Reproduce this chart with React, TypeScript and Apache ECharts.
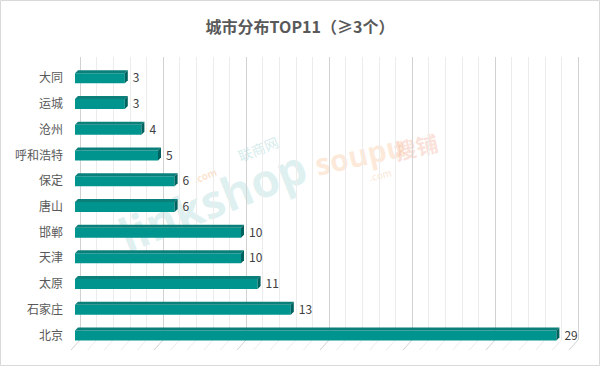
import React, { useEffect, useRef } from "react";
import * as echarts from "echarts";

const categories = ["大同", "运城", "沧州", "呼和浩特", "保定", "唐山", "邯郸", "天津", "太原", "石家庄", "北京"];
const values = [3, 3, 4, 5, 6, 6, 10, 10, 11, 13, 29];
const titleText = "城市分布TOP11（≥3个）";
const axisMax = 30;
const FONT = "'Noto Sans CJK SC', 'Noto Sans', sans-serif";

export default function App() {
  const ref = useRef<HTMLDivElement>(null);
  useEffect(() => {
    document.body.style.margin = "0";
    const chart = echarts.init(ref.current!, null, { renderer: "svg" });
    const ticks = Array.from({ length: axisMax + 1 }, (_, i) => [i, 0]);
    const option: any = {
      animation: false,
      backgroundColor: "#ffffff",
      title: {
        text: titleText,
        left: "center",
        top: 13,
        textStyle: { fontSize: 16, fontWeight: "bold", color: "#595959", fontFamily: FONT },
      },
      grid: [
        { left: 80, right: 22, top: 57, bottom: 26 },
        { left: 75, right: 27, top: 64, bottom: 19 },
      ],
      xAxis: [
        {
          gridIndex: 0, type: "value", min: 0, max: axisMax, interval: 1,
          axisLabel: { show: false }, axisLine: { show: false }, axisTick: { show: false },
          splitLine: { show: true, lineStyle: { width: 1, color: ["#d2d2d2", "#ececec", "#ececec", "#ececec", "#ececec"] } },
        },
        { gridIndex: 1, type: "value", min: 0, max: axisMax, show: false, splitLine: { show: false } },
      ],
      yAxis: [
        { gridIndex: 0, type: "category", data: categories, inverse: true, show: false },
        {
          gridIndex: 1, type: "category", data: categories, inverse: true,
          axisLine: { show: false }, axisTick: { show: false }, splitLine: { show: false },
          axisLabel: { color: "#595959", fontSize: 12, margin: 12, fontFamily: FONT },
        },
      ],
      graphic: [
        { type: "rect", shape: { x: 0.5, y: 0.5, width: 599, height: 365 }, style: { fill: "none", stroke: "#d9d9d9", lineWidth: 1 }, z: 100 },
        { type: "text", x: 112, y: 215, rotation: 0.38, z: -1, style: { text: "linkshop", fontSize: 46, fontWeight: "bold", fontFamily: "'Open Sans', sans-serif", fill: "rgba(110,190,190,0.22)" } },
        { type: "text", x: 236, y: 150, rotation: 0.38, z: -1, style: { text: "联商网", fontSize: 14, fontFamily: FONT, fill: "rgba(110,190,190,0.3)" } },
        { type: "text", x: 192, y: 175, rotation: 0.38, z: -1, style: { text: ".com", fontSize: 10, fontWeight: "bold", fontFamily: FONT, fill: "rgba(245,170,110,0.35)" } },
        { type: "text", x: 312, y: 150, rotation: 0.22, z: -1, style: { text: "soupu", fontSize: 30, fontWeight: "bold", fontFamily: "'Open Sans', sans-serif", fill: "rgba(245,180,120,0.28)" } },
        { type: "text", x: 368, y: 172, rotation: 0.22, z: -1, style: { text: ".com", fontSize: 10, fontFamily: FONT, fill: "rgba(245,180,120,0.35)" } },
        { type: "text", x: 392, y: 140, rotation: 0.22, z: -1, style: { text: "搜铺", fontSize: 22, fontWeight: "bold", fontFamily: FONT, fill: "rgba(240,150,120,0.3)" } },
      ],
      series: [
        {
          type: "custom",
          xAxisIndex: 0, yAxisIndex: 0,
          data: ticks,
          silent: true,
          renderItem: (params: any, api: any) => {
            const v = api.value(0);
            const cs = params.coordSys;
            const p = api.coord([v, 0]);
            const yb = cs.y + cs.height;
            return {
              type: "line",
              shape: { x1: p[0], y1: yb, x2: p[0] - 9, y2: yb + 10 },
              style: { stroke: v % 5 === 0 ? "#d2d2d2" : "#ececec", lineWidth: 1 },
            };
          },
        },
        {
          type: "custom",
          xAxisIndex: 1, yAxisIndex: 1,
          data: values.map((v, i) => [v, i]),
          renderItem: (params: any, api: any) => {
            const v = api.value(0);
            const i = api.value(1);
            const s = api.coord([0, i]);
            const e = api.coord([v, i]);
            const h = 10, d = 3;
            const x0 = s[0], x1 = e[0];
            const yf = s[1] - h / 2 + 1.4;
            return {
              type: "group",
              children: [
                { type: "rect", shape: { x: x0, y: yf, width: x1 - x0, height: h }, style: { fill: "#00948f" } },
                { type: "polygon", shape: { points: [[x0, yf], [x0 + d, yf - d], [x1 + d, yf - d], [x1, yf]] }, style: { fill: "#0b7f7a" } },
                { type: "polygon", shape: { points: [[x1, yf], [x1 + d, yf - d], [x1 + d, yf - d + h], [x1, yf + h]] }, style: { fill: "#00625e" } },
                { type: "text", x: x1 + d + 5, y: s[1], style: { text: String(v), fontSize: 12, fontFamily: FONT, fill: "#404040", verticalAlign: "middle", align: "left" } },
              ],
            };
          },
        },
      ],
    };
    chart.setOption(option);
    return () => chart.dispose();
  }, []);
  return <div ref={ref} style={{ width: 600, height: 366 }} />;
}
